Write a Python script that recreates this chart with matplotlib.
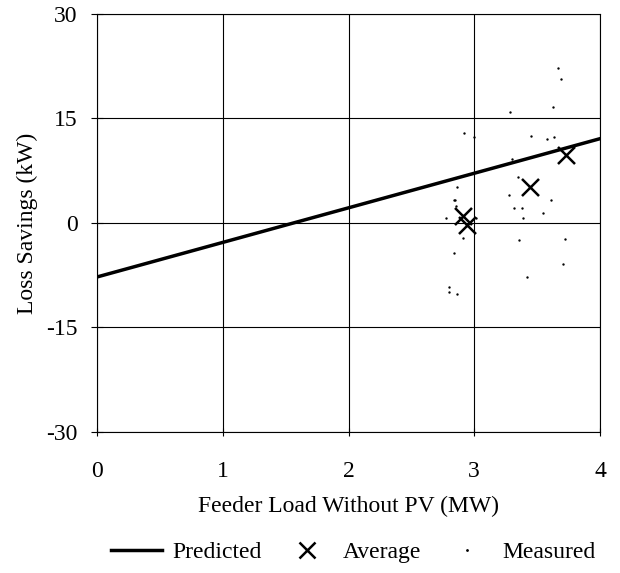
import matplotlib
matplotlib.use("Agg")
import matplotlib.pyplot as plt
from matplotlib.lines import Line2D

plt.rcParams['font.family'] = ['Liberation Serif', 'DejaVu Serif']
plt.rcParams['axes.unicode_minus'] = False

# predicted line (end points)
pred_x = [0, 4]
pred_y = [-7.75, 12.1]

# averages
avg_x = [2.91, 2.945, 3.443, 3.73]
avg_y = [0.96, -0.33, 5.13, 9.83]

# measured points
meas_x = [3.666, 3.69, 3.624, 3.284, 2.918, 3.0, 3.449, 3.581, 3.634, 3.303,
          3.351, 2.865, 2.839, 2.855, 3.276, 3.61, 3.316, 3.38, 3.544, 3.39,
          2.778, 3.011, 2.913, 3.356, 3.722, 2.839, 3.708, 3.419, 2.797, 2.802,
          2.863, 2.85]
meas_y = [22.3, 20.6, 16.6, 16.0, 12.9, 12.3, 12.5, 12.0, 12.3, 9.15,
          6.57, 5.13, 3.31, 2.4, 3.98, 3.26, 2.16, 2.16, 1.39, 0.72,
          0.72, 0.72, -2.2, -2.49, -2.34, -4.31, -5.89, -7.8, -9.24, -9.9,
          -10.24, 3.3]

FS = 17

fig = plt.figure(figsize=(6.2, 5.73), dpi=100)
ax = fig.add_axes([0.1565, 0.2461, 0.8112, 0.7295])

ax.plot(pred_x, pred_y, color='black', lw=2.5, label='Predicted', zorder=3)
ax.scatter(avg_x, avg_y, marker='x', s=150, color='black', linewidths=1.8,
           label='Average', zorder=4)
ax.scatter(meas_x, meas_y, marker='.', s=2, color='black', label='Measured', zorder=2)

ax.set_xlim(0, 4)
ax.set_ylim(-30, 30)
ax.set_xticks([0, 1, 2, 3, 4])
ax.set_yticks([-30, -15, 0, 15, 30])
ax.grid(True, color='black', lw=0.8)
ax.tick_params(axis='y', direction='inout', length=8, width=0.8, labelsize=FS, pad=10)
ax.tick_params(axis='x', direction='inout', length=6, width=0.8, labelsize=FS, pad=18)
for s in ax.spines.values():
    s.set_linewidth(0.8)

ax.set_xlabel('Feeder Load Without PV (MW)', fontsize=FS, labelpad=10)
ax.set_ylabel('Loss Savings (kW)', fontsize=FS, labelpad=6)

handles = [Line2D([0], [0], color='black', lw=2.5),
           Line2D([0], [0], marker='x', color='black', ls='none', markersize=11, mew=1.8),
           Line2D([0], [0], marker='.', color='black', ls='none', markersize=2)]
fig.legend(handles, ['Predicted', 'Average', 'Measured'], loc='center',
           ncol=3, frameon=False, fontsize=FS, bbox_to_anchor=(0.570, 0.036),
           columnspacing=0.85, handlelength=2.16, handletextpad=0.42,
           borderaxespad=0, borderpad=0)

fig.savefig('out.png', dpi=100)
